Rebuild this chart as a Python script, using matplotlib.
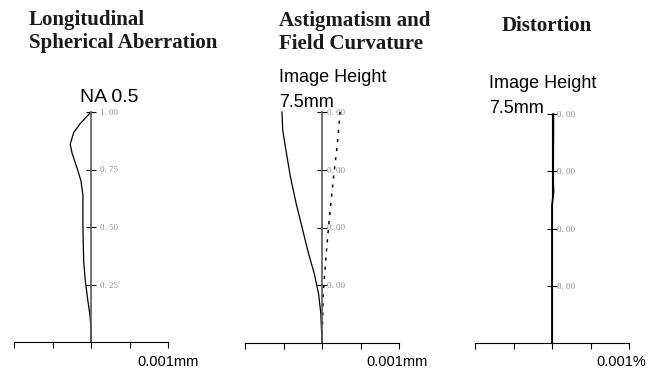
import matplotlib
matplotlib.use("Agg")
import matplotlib.pyplot as plt

# ---- data ----
sa_height = [0, 0.06, 0.12, 0.19, 0.27, 0.35, 0.50, 0.64, 0.70, 0.75, 0.82, 0.86, 0.91, 0.95, 1.0]
sa_shift = [0, 0, -0.03, -0.09, -0.15, -0.19, -0.21, -0.21, -0.26, -0.35, -0.49, -0.54, -0.45, -0.28, 0]

field_height = [0, 0.127, 0.214, 0.300, 0.387, 0.502, 0.603, 0.719, 0.848, 0.921, 1.0]
sagittal = [0, -0.03, -0.09, -0.20, -0.35, -0.52, -0.67, -0.82, -0.95, -1.02, -1.04]
tangential = [0, 0.02, 0.03, 0.07, 0.11, 0.17, 0.23, 0.30, 0.39, 0.43, 0.47]

dist_height = [0, 0.60, 0.66, 0.70, 0.80, 0.90, 1.0]
distortion = [0, 0, 0.04, 0.03, 0.03, 0.035, 0.035]

x_ticks = [-2, -1, 0, 1, 2]
y_ticks = [0.25, 0.50, 0.75, 1.00]
sa_ylabels = ["0. 25", "0. 50", "0. 75", "1. 00"]
zero_ylabels = ["0. 00", "0. 00", "0. 00", "0. 00"]

titles = [["Longitudinal", "Spherical Aberration"], ["Astigmatism and", "Field Curvature"], ["Distortion"]]
units = ["0.001mm", "0.001mm", "0.001%"]

W, H = 656, 370
fig = plt.figure(figsize=(W / 100, H / 100), dpi=100)

def fx(px):
    return px / W

def fy(py):
    return (H - py) / H

def make_axes(left, right, top, bottom, ylabels, vcolor, vlw, lpad):
    ax = fig.add_axes([fx(left), fy(bottom), (right - left) / W, (bottom - top) / H])
    ax.set_xlim(-2, 2)
    ax.set_ylim(0, 1)
    ax.patch.set_alpha(0)
    for s in ["top", "left"]:
        ax.spines[s].set_visible(False)
    ax.spines["right"].set_position(("data", 0))
    ax.spines["right"].set_color(vcolor)
    ax.spines["right"].set_linewidth(vlw)
    ax.spines["bottom"].set_linewidth(0.8)
    ax.yaxis.set_ticks_position("right")
    ax.set_yticks(y_ticks)
    ax.set_yticklabels(ylabels, fontfamily="Liberation Serif", fontsize=6.5, color="#8a8a8a")
    ax.tick_params(axis="y", direction="inout", length=6.5, width=0.8, color="black", pad=lpad)
    ax.set_xticks(x_ticks)
    ax.set_xticklabels([])
    ax.tick_params(axis="x", direction="out", length=4.5, width=0.8, color="black")
    return ax

ax1 = make_axes(14, 168, 112, 342, sa_ylabels, "#5a5a5a", 1.2, 3.2)
ax1.plot(sa_shift, sa_height, color="black", lw=0.9, clip_on=False)

ax2 = make_axes(245, 399, 112, 343, zero_ylabels, "#5a5a5a", 1.2, 0.4)
ax2.plot(sagittal, field_height, color="black", lw=0.9, clip_on=False)
ax2.plot(tangential, field_height, color="black", lw=1.1, linestyle=(0, (2, 4)), clip_on=False)

ax3 = make_axes(475, 629, 114, 343, zero_ylabels, "black", 0.8, 0.4)
ax3.plot(distortion, dist_height, color="black", lw=1.3, clip_on=False)

# ---- titles ----
tfont = dict(fontfamily="Liberation Serif", fontweight="bold", fontsize=15, color="#1a1a1a", va="baseline", ha="left")
fig.text(fx(29), fy(25), titles[0][0], **tfont)
fig.text(fx(29), fy(48), titles[0][1], **tfont)
fig.text(fx(279), fy(26), titles[1][0], **tfont)
fig.text(fx(279), fy(49), titles[1][1], **tfont)
fig.text(fx(502), fy(31), titles[2][0], **tfont)

sfont = dict(fontfamily="Liberation Sans", color="black", va="baseline", ha="left")
fig.text(fx(80), fy(102), "NA 0.5", fontsize=14, **sfont)
fig.text(fx(279), fy(82), "Image Height", fontsize=13, **sfont)
fig.text(fx(279), fy(107), "7.5mm", fontsize=13, **sfont)
fig.text(fx(489), fy(88), "Image Height", fontsize=13, **sfont)
fig.text(fx(489), fy(113), "7.5mm", fontsize=13, **sfont)

fig.text(fx(137), fy(366), units[0], fontsize=10.5, **sfont)
fig.text(fx(366), fy(366), units[1], fontsize=10.5, **sfont)
fig.text(fx(596), fy(366), units[2], fontsize=10.5, **sfont)

fig.savefig("out.png", dpi=100)
